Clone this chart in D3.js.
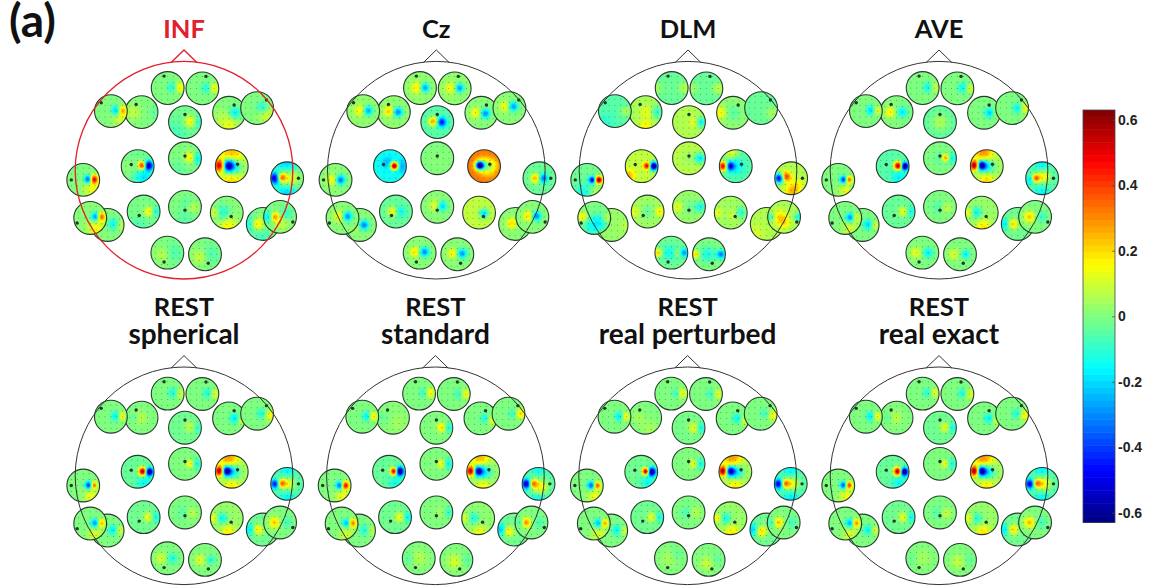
<!DOCTYPE html>
<html>
<head>
<meta charset="utf-8">
<script src="https://cdn.jsdelivr.net/npm/d3@7"></script>
<style>
  html, body { margin: 0; padding: 0; background: #fff; overflow: hidden; }
  .title { font-family: Lato, "Open Sans", sans-serif; font-weight: 700; text-anchor: middle; fill: #111; }
  .bar-axis text { font-family: "Liberation Sans", Arial, sans-serif; font-weight: 700; font-size: 14px; fill: #222; }
</style>
</head>
<body>
<svg id="chart" width="1149" height="587"></svg>
<script>
// Panel titles, one line or two
const panelTitles = [["INF"], ["Cz"], ["DLM"], ["AVE"],
  ["REST", "spherical"], ["REST", "standard"], ["REST", "real perturbed"], ["REST", "real exact"]];

// Electrode sites, in back to front order (head coordinates, -1..1)
const sites = ["Fp1", "Fp2", "F3", "F7", "Fz", "F4", "F8", "C3", "Cz", "C4", "T7", "T8", "P3", "Pz", "P4", "P5", "P7", "P6", "P8", "O1", "O2"];
const siteX = [-0.15, 0.169, -0.39, -0.672, 0.009, 0.414, 0.672, -0.426, 0.009, 0.439, -0.926, 0.948, -0.371, 0.009, 0.393, -0.702, -0.862, 0.724, 0.883, -0.153, 0.193];
const siteY = [-0.755, -0.752, -0.534, -0.543, -0.442, -0.528, -0.571, -0.037, -0.11, -0.037, 0.089, 0.074, 0.38, 0.337, 0.39, 0.503, 0.439, 0.494, 0.429, 0.758, 0.773];

// Reference dot inside each small map (map coordinates, -1..1), null when hidden
const dotX = [-0.22, 0.22, -0.33, -0.59, 0, 0.31, 0.57, -0.39, 0, 0.35, -0.73, 0.69, -0.27, 0, 0.27, null, -0.8, null, 0.78, -0.2, 0.2];
const dotY = [-0.73, -0.73, -0.47, -0.51, -0.47, -0.47, -0.49, -0.1, -0.14, -0.12, 0, 0, 0.24, 0.2, 0.24, null, 0.31, null, 0.31, 0.57, 0.55];

// Value field of each small map: [base, [x, y, value, spread], ...]
const infMaps = [
  [0, [0.35, -0.06, -0.17, 0.17], [0.7, -0.06, 0.2, 0.18]],
  [0, [0.3, -0.02, -0.15, 0.17], [0.7, -0.02, 0.17, 0.17]],
  [0, [-0.55, 0, 0.08, 0.25], [0.9, 0, -0.04, 0.2]],
  [0, [0.35, -0.04, -0.28, 0.15], [0.7, -0.04, 0.27, 0.15], [0.7, 0.5, 0.1, 0.3]],
  [-0.02, [0.35, -0.04, 0.2, 0.19], [0.8, 0, -0.1, 0.2], [-0.6, 0.7, -0.05, 0.4]],
  [0, [0.37, 0, -0.17, 0.18], [0, 0.85, 0.12, 0.3], [-0.5, 0.3, 0.05, 0.3]],
  [0, [0.33, -0.05, -0.13, 0.18], [0.7, 0.5, 0.1, 0.3]],
  [-0.02, [0.3, -0.04, 0.55, 0.13], [0.67, -0.04, -0.6, 0.15], [0.4, 0.7, -0.17, 0.3], [-0.6, 0.1, 0.04, 0.3]],
  [0, [0.35, -0.05, 0.22, 0.18], [0.75, 0, -0.2, 0.19], [-0.4, 0.7, -0.04, 0.3]],
  [0.05, [-0.72, -0.04, 0.55, 0.19], [-0.27, -0.04, -0.65, 0.19], [0.1, 0.05, -0.25, 0.28], [0, -0.8, 0.2, 0.38], [0, 0.9, 0.17, 0.35]],
  [0, [0.33, -0.04, -0.48, 0.13], [0.65, -0.04, 0.52, 0.14], [0.6, 0.6, 0.14, 0.3]],
  [-0.03, [-0.75, 0, -0.55, 0.18], [-0.37, -0.04, 0.45, 0.15], [0.2, 0, 0.19, 0.33], [0, -1, -0.2, 0.38], [0, 1, -0.2, 0.38]],
  [-0.01, [0.33, 0, 0.2, 0.15], [0.75, 0, -0.12, 0.17], [-0.3, 0.9, -0.05, 0.3]],
  [0, [0.45, 0, 0.1, 0.18], [0.2, -0.2, -0.06, 0.2], [0, 0.7, -0.05, 0.3]],
  [0.01, [-0.3, 0, -0.15, 0.24], [-0.7, 0, 0.13, 0.18], [0.1, 0.9, 0.16, 0.3]],
  [0.01, [0.4, -0.06, -0.17, 0.2], [0.8, 0, 0.1, 0.18]],
  [0.01, [0.35, -0.08, -0.37, 0.14], [0.68, -0.08, 0.38, 0.14], [0.4, 0.7, 0.14, 0.3]],
  [0, [-0.33, 0, 0.22, 0.2], [-0.9, 0, -0.14, 0.3], [0, 0.9, -0.08, 0.3]],
  [0, [-0.35, 0, 0.32, 0.15], [-0.72, 0, -0.2, 0.18], [0.4, -0.2, -0.1, 0.2], [0.1, 0.4, 0.08, 0.25]],
  [0, [-0.25, 0.1, 0.08, 0.25], [0.35, 0, -0.07, 0.3]],
  [0, [-0.3, 0.15, 0.1, 0.25], [0.3, 0, -0.07, 0.3]]
];
const czMaps = [
  [0.02, [-0.2, -0.02, 0.17, 0.18], [0.3, -0.02, -0.32, 0.14]],
  [0.02, [-0.25, -0.02, 0.14, 0.18], [0.3, -0.02, -0.32, 0.14]],
  [0.02, [-0.3, -0.05, 0.2, 0.16], [0.25, 0, -0.34, 0.15]],
  [0.02, [-0.2, -0.05, 0.15, 0.18], [0.3, -0.03, -0.3, 0.15]],
  [-0.05, [-0.25, -0.05, 0.33, 0.15], [0.28, 0, -0.42, 0.15]],
  [0.01, [-0.35, 0, 0.17, 0.16], [0.25, 0.05, -0.32, 0.15]],
  [0.01, [-0.3, -0.1, 0.14, 0.17], [0.25, -0.1, -0.3, 0.15]],
  [-0.14, [0.28, -0.02, 0.85, 0.13], [-0.1, -0.2, -0.12, 0.2], [0.65, 0, -0.15, 0.2]],
  [0, [0.1, 0.1, 0.01, 0.4]],
  [0.33, [-0.28, -0.05, -0.9, 0.13], [0, -0.05, -0.28, 0.25], [0.35, 0.3, -0.08, 0.25], [0.55, -0.1, -0.12, 0.2]],
  [0.01, [-0.2, 0, 0.15, 0.18], [0.3, 0, -0.36, 0.15]],
  [-0.03, [-0.25, 0, 0.28, 0.15], [0.25, 0, -0.32, 0.14]],
  [-0.03, [-0.2, 0, 0.2, 0.16], [0.25, 0, -0.13, 0.18]],
  [0.01, [-0.1, -0.1, 0.14, 0.18], [0.28, -0.05, -0.24, 0.16]],
  [0.08, [0.3, 0.05, -0.28, 0.15]],
  [0.01, [-0.4, -0.05, 0.17, 0.18], [0.25, 0, -0.34, 0.15]],
  [0.01, [-0.2, -0.1, 0.15, 0.18], [0.3, -0.1, -0.32, 0.15]],
  [0.01, [-0.2, -0.05, 0.19, 0.18], [0.5, -0.05, -0.05, 0.2]],
  [0.01, [-0.25, -0.05, 0.2, 0.16], [0.25, -0.05, -0.32, 0.15]],
  [0.01, [-0.3, -0.05, 0.18, 0.16], [0.3, -0.05, -0.32, 0.15]],
  [0.01, [-0.3, -0.05, 0.16, 0.16], [0.3, -0.05, -0.3, 0.15]]
];
const dlmMaps = [
  [-0.03, [0.8, 0, 0.1, 0.18], [-0.9, 0, 0.07, 0.18]],
  [-0.03, [0.78, 0, 0.11, 0.18], [-0.9, 0, 0.07, 0.18]],
  [0.05, [0.7, 0, -0.16, 0.2], [0.1, 0, 0.1, 0.2], [0, 0.9, 0.12, 0.22]],
  [-0.05, [0.7, 0, 0.11, 0.17], [-0.6, 0.7, -0.05, 0.3]],
  [0.06, [0.75, 0, -0.22, 0.17], [0.35, 0, 0.1, 0.15]],
  [0.02, [-0.8, 0, 0.15, 0.2], [0, 0, -0.07, 0.25]],
  [-0.03, [0.7, 0.3, 0.08, 0.2]],
  [0.08, [0.35, -0.02, 0.5, 0.11], [0.75, 0, -0.75, 0.14], [-0.8, 0.6, 0.17, 0.2]],
  [0.07, [0.7, 0, -0.25, 0.17], [0, 0, -0.04, 0.22]],
  [-0.05, [-0.78, 0, 0.6, 0.15], [-0.38, 0, -0.48, 0.14], [0, 0, -0.12, 0.28], [-0.3, -0.9, 0.18, 0.25]],
  [-0.02, [0.32, 0, -0.52, 0.11], [0.72, 0, 0.65, 0.12], [-0.2, 0.8, -0.12, 0.3], [0.5, 0.8, 0.1, 0.22]],
  [0.06, [-0.75, 0, -0.58, 0.15], [-0.32, -0.1, 0.38, 0.15], [0.3, 0.5, 0.12, 0.24], [0, 0.9, 0.15, 0.22]],
  [0.04, [0.75, 0, 0.15, 0.14], [0, 0, -0.07, 0.24], [-0.8, 0, 0.08, 0.18]],
  [0.03, [0.7, 0, -0.17, 0.17], [-0.7, 0, 0.1, 0.17], [0, 0, -0.05, 0.24]],
  [0.04, [-0.8, 0, 0.1, 0.13], [0.6, 0, -0.16, 0.18], [0.2, 0.1, 0.07, 0.18]],
  [0.03, [0.9, 0.1, 0.04, 0.2]],
  [0, [0.2, 0.3, -0.17, 0.28], [-0.75, -0.1, 0.18, 0.15], [0.8, 0, 0.1, 0.14], [-0.3, 0.7, -0.08, 0.25]],
  [0.06, [-0.7, 0.6, 0.05, 0.25]],
  [0.05, [-0.3, 0, 0.14, 0.22], [0, 0.35, 0.13, 0.2], [-0.8, 0, -0.16, 0.13], [0.9, 0, -0.2, 0.13]],
  [-0.02, [-0.85, 0, 0.25, 0.12], [-0.1, 0, -0.12, 0.24], [0.8, 0, -0.27, 0.14], [0.4, 0, 0.12, 0.12]],
  [0, [-0.85, 0, 0.22, 0.12], [-0.1, 0, -0.13, 0.24], [0.75, 0, -0.32, 0.14]]
];
const aveMaps = [
  [0, [0.35, -0.05, -0.17, 0.16], [0.7, -0.05, 0.11, 0.16]],
  [0, [0.35, -0.05, -0.16, 0.17], [0.75, 0, 0.13, 0.14]],
  [0, [-0.4, 0, 0.17, 0.18], [0.35, 0, -0.18, 0.17]],
  [0, [0.33, -0.05, -0.24, 0.15], [0.65, -0.05, 0.17, 0.14]],
  [-0.04, [0, 0, 0.1, 0.26]],
  [0, [0.35, 0, -0.22, 0.16], [0.8, 0, 0.11, 0.14]],
  [0, [0.35, 0, -0.18, 0.16], [0.8, 0, 0.15, 0.18]],
  [-0.05, [0.35, -0.02, 0.68, 0.13], [0.75, 0, -0.7, 0.12], [0.4, 0.7, -0.12, 0.24]],
  [0, [0.35, -0.03, 0.32, 0.12], [0.75, 0, -0.14, 0.18], [0, 0, -0.05, 0.2]],
  [0.05, [-0.75, -0.05, 0.6, 0.15], [-0.35, -0.05, -0.68, 0.15], [0.05, 0, -0.22, 0.24], [-0.2, -0.9, 0.25, 0.32], [0, 0.9, 0.16, 0.24]],
  [0, [0.35, -0.02, -0.46, 0.12], [0.65, -0.02, 0.4, 0.11], [0.5, 0.7, 0.13, 0.24]],
  [-0.05, [-0.4, 0, 0.42, 0.13], [-0.75, 0.1, -0.16, 0.14], [0.1, -0.1, 0.22, 0.2], [0, -1, -0.12, 0.26], [0, 1, -0.12, 0.26]],
  [-0.03, [0.3, 0, 0.19, 0.15], [0.75, 0, -0.11, 0.17]],
  [0, [0.4, 0.05, 0.08, 0.18], [-0.1, 0, -0.06, 0.22]],
  [0.03, [-0.35, 0, -0.19, 0.18], [-0.8, 0, 0.13, 0.14], [0.1, 0.9, 0.16, 0.24]],
  [0, [0.35, -0.03, -0.22, 0.16], [0.75, 0, 0.13, 0.14]],
  [0, [0.33, -0.03, -0.33, 0.14], [0.65, -0.03, 0.17, 0.14], [0.3, 0.7, 0.11, 0.24]],
  [-0.02, [-0.3, 0, 0.24, 0.16], [-0.85, 0, -0.16, 0.19]],
  [0, [-0.35, 0, 0.22, 0.18], [0.4, 0, -0.09, 0.18]],
  [0, [-0.4, 0, 0.13, 0.18], [0.35, 0, -0.17, 0.16]],
  [0, [-0.4, 0, 0.11, 0.18], [0.35, 0, -0.17, 0.14]]
];
const sphericalMaps = [
  [0, [0.35, -0.05, -0.15, 0.16], [0.75, 0, 0.11, 0.16]],
  [0, [0.35, -0.05, -0.15, 0.16], [0.75, 0, 0.13, 0.16]],
  [0, [-0.1, 0, 0.09, 0.2], [-0.4, 0, -0.07, 0.15]],
  [0, [0.33, -0.03, -0.22, 0.15], [0.62, -0.03, 0.2, 0.14]],
  [-0.02, [0.35, -0.05, 0.11, 0.18], [0.75, 0, -0.09, 0.16]],
  [0, [0.35, 0, -0.19, 0.16], [0.8, 0.1, 0.13, 0.14]],
  [0, [0.3, 0, -0.14, 0.16], [0.8, 0.1, 0.16, 0.18]],
  [-0.03, [0.33, -0.02, 0.68, 0.13], [0.72, 0, -0.68, 0.13], [0.4, 0.7, -0.12, 0.24]],
  [0, [0.35, 0, 0.2, 0.13], [0.7, 0, -0.14, 0.17]],
  [0.05, [-0.75, -0.05, 0.6, 0.15], [-0.35, -0.05, -0.68, 0.15], [0.05, 0, -0.25, 0.24], [-0.2, -0.9, 0.24, 0.32], [0, 0.9, 0.14, 0.24]],
  [0, [0.35, -0.02, -0.45, 0.12], [0.65, -0.02, 0.38, 0.11], [0.5, 0.7, 0.14, 0.24]],
  [-0.05, [-0.75, 0, -0.45, 0.14], [-0.35, -0.03, 0.4, 0.14], [0.1, 0, 0.18, 0.2], [0, -1, -0.12, 0.26], [0, 1, -0.12, 0.26]],
  [-0.02, [0.3, 0, 0.18, 0.15], [0.75, 0, -0.12, 0.17]],
  [0, [0.4, 0.05, 0.08, 0.18], [-0.1, 0, -0.05, 0.22]],
  [0.03, [-0.3, 0, -0.18, 0.18], [-0.8, 0, 0.13, 0.14], [0.1, 0.9, 0.14, 0.24]],
  [0, [0.35, -0.03, -0.19, 0.16], [0.75, 0, 0.13, 0.14]],
  [0, [0.33, -0.03, -0.35, 0.14], [0.65, -0.03, 0.28, 0.14], [0.3, 0.7, 0.11, 0.24]],
  [-0.02, [-0.3, 0, 0.22, 0.16], [-0.85, 0, -0.16, 0.19]],
  [0, [-0.35, 0, 0.22, 0.18], [0.4, 0, -0.08, 0.18]],
  [0, [-0.4, 0, 0.11, 0.18], [0.3, 0, -0.13, 0.16]],
  [0, [-0.3, 0, 0.12, 0.18], [0.35, 0, -0.12, 0.14]]
];
const standardMaps = [
  [0, [0.35, -0.05, -0.14, 0.16], [0.65, -0.05, 0.21, 0.16]],
  [0, [0.35, 0, -0.12, 0.16], [0.7, 0, 0.17, 0.16]],
  [0.01, [-0.6, 0, -0.04, 0.2], [0.3, 0.3, 0.03, 0.26]],
  [0, [0.33, -0.03, -0.22, 0.15], [0.63, -0.03, 0.24, 0.14]],
  [0, [0.35, -0.02, 0.22, 0.15], [0.75, 0, -0.14, 0.16]],
  [0, [0.3, 0, -0.14, 0.16], [0.75, 0.1, 0.16, 0.16]],
  [0, [0.3, 0, -0.1, 0.16], [0.75, 0, 0.21, 0.16]],
  [-0.03, [0.33, -0.03, 0.68, 0.12], [0.65, -0.03, -0.72, 0.14], [0.4, 0.7, -0.1, 0.24]],
  [0, [0.35, 0, 0.2, 0.14], [0.7, 0, -0.17, 0.17]],
  [0.03, [-0.75, -0.05, 0.6, 0.15], [-0.35, -0.05, -0.62, 0.15], [0.05, 0, -0.24, 0.24], [-0.2, -0.9, 0.22, 0.32], [0, 0.9, 0.14, 0.24]],
  [0, [0.35, 0, -0.44, 0.13], [0.65, 0, 0.55, 0.13], [0.5, 0.7, 0.14, 0.24]],
  [-0.05, [-0.75, 0, -0.55, 0.15], [-0.35, -0.02, 0.38, 0.14], [0.1, 0.2, 0.22, 0.24], [0, -1, -0.1, 0.24], [0, 1, -0.12, 0.24]],
  [-0.02, [0.3, 0, 0.18, 0.15], [0.8, 0, -0.15, 0.15]],
  [0, [0.75, 0, -0.11, 0.15], [0.3, 0, 0.05, 0.18]],
  [0.02, [-0.3, 0, -0.15, 0.18], [-0.8, 0, 0.11, 0.14], [0.1, 0.9, 0.12, 0.24]],
  [0, [0.4, -0.03, -0.16, 0.17], [0.7, 0, 0.11, 0.16]],
  [0, [0.35, -0.03, -0.33, 0.14], [0.65, -0.03, 0.38, 0.14], [0.3, 0.7, 0.1, 0.24]],
  [-0.02, [-0.35, 0.1, 0.22, 0.17], [-0.85, 0, -0.22, 0.19]],
  [0, [-0.35, 0, 0.33, 0.15], [-0.65, 0, -0.12, 0.14], [0.5, 0, -0.06, 0.2]],
  [0, [0, 0, 0.07, 0.26], [-0.6, 0, -0.05, 0.2]],
  [0, [-0.1, 0.1, 0.11, 0.24], [0.6, 0, -0.05, 0.2]]
];
const perturbedMaps = [
  [0, [0.35, -0.03, -0.13, 0.15], [0.65, -0.03, 0.17, 0.16]],
  [0, [0.35, 0, -0.12, 0.16], [0.7, 0, 0.15, 0.16]],
  [0, [-0.4, 0, 0.05, 0.2], [0.3, 0.7, 0.05, 0.26]],
  [0, [0.33, -0.02, -0.22, 0.15], [0.65, -0.02, 0.2, 0.14]],
  [-0.01, [0.35, 0, 0.17, 0.16], [0.75, 0, -0.14, 0.16]],
  [0, [0.3, 0, -0.16, 0.16], [0.8, 0.1, 0.14, 0.16]],
  [0, [0.3, 0, -0.1, 0.16], [0.75, 0.1, 0.16, 0.17]],
  [-0.02, [0.3, -0.02, 0.68, 0.11], [0.65, 0, -0.66, 0.14], [0.4, 0.7, -0.12, 0.24]],
  [0, [0.35, 0, 0.16, 0.14], [0.72, 0, -0.15, 0.17]],
  [0.05, [-0.75, -0.05, 0.6, 0.15], [-0.35, -0.05, -0.62, 0.15], [0.05, 0, -0.25, 0.24], [-0.2, -0.9, 0.24, 0.32], [0, 0.9, 0.14, 0.24]],
  [0, [0.3, 0, -0.42, 0.13], [0.62, 0, 0.42, 0.12], [0.5, 0.7, 0.14, 0.24]],
  [-0.05, [-0.75, 0, -0.5, 0.15], [-0.35, -0.02, 0.4, 0.14], [0.1, 0, 0.2, 0.2], [0, -1, -0.12, 0.26], [0, 1, -0.14, 0.26]],
  [-0.02, [0.3, 0, 0.17, 0.15], [0.75, 0, -0.12, 0.16]],
  [0, [0.4, 0, 0.08, 0.18], [-0.1, 0, -0.07, 0.2]],
  [0.03, [-0.3, 0, -0.17, 0.18], [-0.8, 0, 0.14, 0.14], [0.1, 0.9, 0.15, 0.24]],
  [0, [0.4, -0.03, -0.18, 0.17], [0.75, 0, 0.13, 0.15]],
  [0, [0.33, -0.03, -0.33, 0.14], [0.62, -0.03, 0.32, 0.14], [0.3, 0.7, 0.11, 0.24]],
  [-0.02, [-0.3, 0.1, 0.24, 0.17], [-0.9, 0, -0.2, 0.2]],
  [0, [-0.35, 0, 0.25, 0.16], [-0.7, 0, -0.12, 0.15], [0.5, 0, -0.07, 0.2]],
  [0, [-0.1, 0, 0.06, 0.26], [0.3, -0.2, -0.05, 0.2]],
  [0, [-0.1, 0.2, 0.09, 0.22], [0.5, 0, -0.04, 0.2]]
];
const exactMaps = [
  [0, [0.35, -0.05, -0.14, 0.16], [0.7, -0.05, 0.15, 0.16]],
  [0, [0.35, -0.05, -0.14, 0.16], [0.75, 0, 0.14, 0.16]],
  [0, [-0.45, 0, -0.07, 0.15], [-0.1, 0, 0.09, 0.2]],
  [0, [0.33, -0.03, -0.22, 0.15], [0.65, -0.03, 0.2, 0.14]],
  [-0.02, [0.33, -0.03, 0.18, 0.15], [0.75, 0, -0.12, 0.16]],
  [0, [0.3, 0, -0.17, 0.16], [0.8, 0.1, 0.14, 0.14]],
  [0, [0.3, 0, -0.13, 0.16], [0.8, 0.1, 0.18, 0.17]],
  [-0.03, [0.33, -0.02, 0.68, 0.13], [0.72, 0, -0.7, 0.13], [0.4, 0.7, -0.12, 0.24]],
  [0, [0.35, 0, 0.18, 0.13], [0.7, 0, -0.14, 0.17]],
  [0.05, [-0.75, -0.05, 0.62, 0.15], [-0.35, -0.05, -0.68, 0.15], [0.05, 0, -0.25, 0.24], [-0.2, -0.9, 0.25, 0.32], [0, 0.9, 0.14, 0.24]],
  [0, [0.35, -0.02, -0.45, 0.12], [0.65, -0.02, 0.45, 0.12], [0.5, 0.7, 0.14, 0.24]],
  [-0.05, [-0.75, 0, -0.52, 0.15], [-0.35, -0.03, 0.38, 0.14], [0.1, 0, 0.22, 0.22], [0, -1, -0.12, 0.26], [0, 1, -0.12, 0.26]],
  [-0.02, [0.3, 0, 0.18, 0.15], [0.78, 0, -0.13, 0.16]],
  [0, [0.35, 0.05, 0.1, 0.17], [-0.1, 0, -0.06, 0.2]],
  [0.03, [-0.3, 0, -0.15, 0.18], [-0.8, 0, 0.12, 0.14], [0.1, 0.9, 0.16, 0.24]],
  [0, [0.35, -0.03, -0.17, 0.16], [0.75, 0, 0.13, 0.14]],
  [0, [0.33, -0.03, -0.33, 0.14], [0.65, -0.03, 0.34, 0.14], [0.3, 0.7, 0.11, 0.24]],
  [-0.02, [-0.3, 0, 0.24, 0.16], [-0.85, 0, -0.16, 0.19]],
  [0, [-0.35, 0, 0.24, 0.17], [0.4, 0, -0.08, 0.18]],
  [0, [0, 0, 0.05, 0.26], [-0.6, 0, -0.03, 0.2]],
  [0, [-0.1, 0.1, 0.09, 0.22], [0.5, 0, -0.04, 0.2]]
];
const panelMaps = [infMaps, czMaps, dlmMaps, aveMaps, sphericalMaps, standardMaps, perturbedMaps, exactMaps];

// Colour bar
const barTicks = [-0.6, -0.4, -0.2, 0, 0.2, 0.4, 0.6];
const jetStops = ["#00007f", "#0000ff", "#00ffff", "#ffff00", "#ff0000", "#7f0000"];
const jetPlaces = [0, 0.125, 0.375, 0.625, 0.875, 1];
const barMax = 0.63;

// Sensor grid printed in every map
const gridSteps = [-0.72, -0.36, 0, 0.36, 0.72];

const svg = d3.select("#chart");
const jet = d3.scaleLinear()
    .domain(jetPlaces.map(p => -barMax + p * 2 * barMax))
    .range(jetStops)
    .clamp(true);

const headR = 108.8;
const discR = 16.4;
const spreadScale = 1.35;
const panelCx = [184, 436.3, 688, 939, 184, 435.4, 687.6, 939];
const panelCy = [170.2, 170.2, 170.2, 170.2, 475.8, 475.8, 475.8, 475.8];

const defs = svg.append("defs");
defs.append("clipPath")
    .attr("id", "disc-clip")
  .append("circle")
    .attr("r", discR);
defs.append("filter")
    .attr("id", "soft")
  .append("feGaussianBlur")
    .attr("stdDeviation", 0.35);

// Turn one field description into a picture of the map
function fieldImage(spec) {
  const size = 34;
  const canvas = document.createElement("canvas");
  canvas.width = size;
  canvas.height = size;
  const ctx = canvas.getContext("2d");
  const img = ctx.createImageData(size, size);
  const toField = d3.scaleLinear().domain([0, size - 1]).range([-1, 1]);
  const base = spec[0];
  const blobs = spec.slice(1);
  for (let j = 0; j < size; j++) {
    for (let i = 0; i < size; i++) {
      const u = toField(i), v = toField(j);
      let val = base;
      blobs.forEach(b => {
        const dx = u - b[0], dy = v - b[1], s = b[3] * spreadScale;
        val += b[2] * Math.exp(-(dx * dx + dy * dy) / (2 * s * s));
      });
      const c = d3.rgb(jet(val));
      const k = (j * size + i) * 4;
      img.data[k] = c.r;
      img.data[k + 1] = c.g;
      img.data[k + 2] = c.b;
      img.data[k + 3] = 255;
    }
  }
  ctx.putImageData(img, 0, 0);
  return canvas.toDataURL();
}

const discScale = d3.scaleLinear().domain([-1, 1]).range([-discR, discR]);

// Draw the eight head panels
panelMaps.forEach(function(maps, p) {
  const isRed = panelTitles[p][0] === "INF";
  const lineColor = isRed ? "#e0202e" : "#333";
  const x = d3.scaleLinear().domain([-1, 1]).range([panelCx[p] - headR, panelCx[p] + headR]);
  const y = d3.scaleLinear().domain([-1, 1]).range([panelCy[p] - headR, panelCy[p] + headR]);
  const panel = svg.append("g").attr("class", "panel");
  const head = panel.append("g").attr("filter", "url(#soft)");

  const disc = head.selectAll("g.disc")
      .data(sites)
      .enter().append("g")
      .attr("class", "disc")
      .attr("transform", (d, i) => "translate(" + x(siteX[i]) + "," + y(siteY[i]) + ")");

  const inner = disc.append("g").attr("clip-path", "url(#disc-clip)");
  inner.append("image")
      .attr("x", -discR)
      .attr("y", -discR)
      .attr("width", discR * 2)
      .attr("height", discR * 2)
      .attr("preserveAspectRatio", "none")
      .attr("href", (d, i) => fieldImage(maps[i]));

  // small sensor dots
  const grid = [];
  gridSteps.forEach(a => gridSteps.forEach(b => {
    if (a * a + b * b < 0.95) grid.push([a, b]);
  }));
  inner.selectAll("circle.sensor")
      .data(grid)
      .enter().append("circle")
      .attr("class", "sensor")
      .attr("cx", d => discScale(d[0]))
      .attr("cy", d => discScale(d[1]))
      .attr("r", 0.5)
      .attr("fill", "#2a4a3a")
      .attr("opacity", 0.6);

  disc.append("circle")
      .attr("r", discR)
      .attr("fill", "none")
      .attr("stroke", "#2c3a30")
      .attr("stroke-width", 1.1);

  disc.filter((d, i) => dotX[i] !== null).append("circle")
      .attr("cx", function() { return discScale(dotX[sites.indexOf(d3.select(this.parentNode).datum())]); })
      .attr("cy", function() { return discScale(dotY[sites.indexOf(d3.select(this.parentNode).datum())]); })
      .attr("r", 1.7)
      .attr("fill", "#26352c");

  // head outline and nose go on top of the maps
  head.append("circle")
      .attr("cx", panelCx[p])
      .attr("cy", panelCy[p])
      .attr("r", headR)
      .attr("fill", "none")
      .attr("stroke", lineColor)
      .attr("stroke-width", isRed ? 1.3 : 1);

  const nose = d3.line();
  head.append("path")
      .attr("d", nose([[x(-0.118), y(-0.99)], [x(0), y(-1.105)], [x(0.118), y(-0.99)]]))
      .attr("fill", "none")
      .attr("stroke", lineColor)
      .attr("stroke-width", isRed ? 1.3 : 1);

  // titles
  const lines = panelTitles[p];
  const firstBase = p < 4 ? 38 : 316;
  panel.selectAll("text.title")
      .data(lines)
      .enter().append("text")
      .attr("class", "title")
      .attr("x", panelCx[p])
      .attr("y", (d, i) => firstBase + i * 28)
      .style("font-size", (d, i) => (i === 0 ? "25.5px" : "28px"))
      .style("fill", isRed ? "#e0202e" : null)
      .text(d => d);
});

// Panel letter
svg.append("text")
    .attr("x", 9)
    .attr("y", 37)
    .style("font-family", "Lato, sans-serif")
    .style("font-weight", 700)
    .style("font-size", "46px")
    .style("fill", "#111")
    .text("(a)");

// Colour bar
const barX = 1083, barW = 32;
const barScale = d3.scaleLinear().domain([-barMax, barMax]).range([522.5, 110]);
const levels = d3.range(64);
const level = d3.scaleLinear().domain([0, 64]).range([-barMax, barMax]);
svg.append("g").selectAll("rect")
    .data(levels)
    .enter().append("rect")
    .attr("x", barX)
    .attr("width", barW)
    .attr("y", d => barScale(level(d + 1)))
    .attr("height", d => barScale(level(d)) - barScale(level(d + 1)) + 0.5)
    .attr("fill", d => jet(level(d + 0.5)));
svg.append("rect")
    .attr("x", barX)
    .attr("y", 110)
    .attr("width", barW)
    .attr("height", 412.5)
    .attr("fill", "none")
    .attr("stroke", "#445")
    .attr("stroke-width", 0.8);

const barAxis = svg.append("g")
    .attr("class", "bar-axis")
    .attr("transform", "translate(" + (barX + barW) + ",0)")
    .call(d3.axisRight(barScale).tickValues(barTicks).tickSize(-3).tickPadding(5).tickFormat(d => String(d)));
barAxis.select(".domain").remove();
barAxis.selectAll("line").attr("stroke", "#445").attr("stroke-width", 0.7);
barAxis.selectAll("text").attr("x", 3);
</script>
</body>
</html>
